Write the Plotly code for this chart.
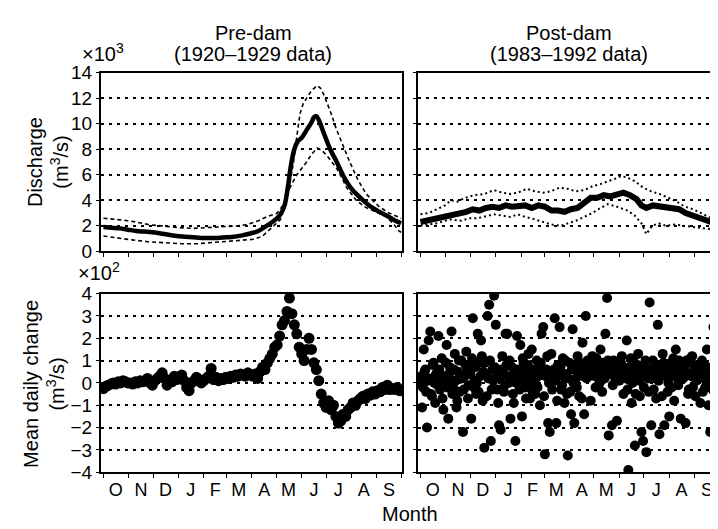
import plotly.graph_objects as go
from plotly.subplots import make_subplots

# month labels (water year, Oct -> Sep), day index from 1 October
month_labels = ["O", "N", "D", "J", "F", "M", "A", "M", "J", "J", "A", "S"]
month_mid = [15, 46, 76, 107, 137, 166, 197, 227, 258, 288, 319, 350]
month_edges = [0, 31, 61, 92, 123, 151, 182, 212, 243, 273, 304, 335, 365]

# pre-dam discharge (x10^3 m3/s)
pre_mean_day = [0, 10, 20, 30, 40, 50, 60, 70, 80, 90, 100, 110, 120, 130, 140, 150, 160, 170, 180, 190,
                200, 207, 213, 218, 222, 226, 230, 234, 238, 243, 249, 255, 258, 261, 264, 270, 278, 286, 295,
                303, 310, 320, 330, 338, 350, 358, 365]
pre_mean = [1.9, 1.85, 1.8, 1.7, 1.6, 1.55, 1.5, 1.4, 1.3, 1.2, 1.15, 1.1, 1.05, 1.05, 1.05, 1.1, 1.15, 1.25,
            1.4, 1.6, 2.0, 2.3, 2.6, 3.0, 3.6, 5.0, 6.8, 8.0, 8.6, 8.9, 9.5, 10.1, 10.5, 10.6, 10.3, 9.3, 8.0,
            7.0, 5.8, 5.0, 4.5, 3.9, 3.4, 3.1, 2.7, 2.4, 2.2]
pre_upper_day = [0, 10, 20, 30, 40, 55, 70, 85, 95, 110, 125, 136, 150, 165, 176, 190, 200, 213, 220, 225,
                 229, 233, 237, 241, 245, 249, 255, 262, 266, 270, 278, 286, 294, 302, 312, 322, 330, 338,
                 350, 362, 365]
pre_upper = [2.6, 2.55, 2.5, 2.4, 2.3, 2.1, 2.0, 1.9, 1.85, 1.8, 1.85, 1.9, 1.95, 2.0, 2.1, 2.4, 2.7, 3.0,
             3.6, 4.2, 5.5, 7.0, 9.0, 10.8, 11.6, 12.0, 12.6, 13.0, 12.8, 12.3, 11.0, 9.5, 8.2, 7.0, 5.6,
             4.5, 4.0, 3.5, 3.0, 2.7, 2.6]
pre_lower_day = [0, 10, 20, 35, 55, 75, 95, 115, 136, 155, 170, 185, 195, 200, 208, 217, 221, 225, 231, 237,
                 243, 249, 255, 262, 268, 274, 280, 286, 292, 298, 304, 310, 320, 331, 340, 347, 355, 362, 365]
pre_lower = [1.2, 1.1, 1.0, 0.9, 0.75, 0.65, 0.6, 0.6, 0.7, 0.75, 0.85, 0.95, 1.2, 1.5, 2.0, 2.5, 3.3, 4.5,
             5.3, 6.0, 6.5, 7.0, 7.6, 8.1, 7.9, 7.5, 7.0, 6.5, 5.8, 5.0, 4.5, 4.0, 3.5, 3.2, 2.9, 2.7, 2.2,
             1.6, 1.5]

# post-dam discharge (x10^3 m3/s)
post_mean_day = [0, 8, 16, 24, 32, 40, 48, 56, 64, 72, 80, 88, 96, 104, 112, 120, 128, 136, 144, 152, 160,
                 168, 176, 184, 192, 200, 208, 216, 224, 232, 240, 248, 256, 264, 270, 276, 284, 292, 300,
                 308, 316, 324, 332, 340, 348, 356, 364]
post_mean = [2.3, 2.4, 2.5, 2.6, 2.8, 2.9, 3.0, 3.1, 3.3, 3.2, 3.4, 3.5, 3.4, 3.6, 3.5, 3.5, 3.6, 3.4, 3.6,
             3.5, 3.2, 3.2, 3.1, 3.3, 3.4, 3.8, 4.2, 4.2, 4.4, 4.3, 4.5, 4.6, 4.4, 4.1, 3.6, 3.4, 3.6, 3.5,
             3.4, 3.3, 3.3, 3.0, 2.8, 2.6, 2.4, 2.2, 2.1]
post_upper_day = [0, 10, 20, 30, 37, 45, 55, 65, 78, 90, 100, 110, 119, 130, 140, 150, 159, 170, 180, 190,
                  200, 210, 221, 230, 238, 245, 252, 262, 272, 282, 292, 303, 313, 323, 333, 343, 352, 364]
post_upper = [2.9, 3.0, 3.3, 3.6, 4.0, 3.9, 4.2, 4.4, 4.5, 4.8, 4.6, 4.5, 4.6, 4.9, 4.7, 4.6, 4.7, 5.0, 4.9,
              4.7, 4.8, 5.1, 5.3, 5.5, 5.7, 5.9, 5.8, 5.5, 5.0, 4.7, 4.5, 4.2, 3.9, 3.5, 3.3, 3.0, 2.7, 2.4]
post_lower_day = [0, 10, 20, 30, 37, 50, 60, 70, 78, 90, 100, 110, 119, 128, 140, 150, 160, 171, 180, 190,
                  200, 210, 220, 229, 240, 253, 262, 270, 276, 283, 291, 300, 310, 323, 335, 347, 360, 364]
post_lower = [2.0, 2.1, 2.2, 2.4, 2.5, 2.4, 2.6, 2.6, 2.7, 2.9, 2.8, 2.7, 2.9, 2.7, 2.5, 2.3, 2.1, 2.0, 2.2,
              2.4, 2.7, 3.0, 3.4, 3.7, 3.5, 3.2, 2.8, 2.2, 1.35, 2.0, 2.2, 2.0, 2.1, 2.0, 1.9, 1.8, 1.7, 1.8]

# pre-dam mean daily change (x10^2 m3/s), every 3 days from 1 Oct
pre_change = [-0.25, -0.15, -0.1, -0.05, 0.0, -0.05, 0.05, 0.0, 0.1, 0.05, 0.0,
              0.0, -0.05, 0.05, 0.0, 0.1, 0.05, 0.1, 0.2, 0.0, -0.1,
              0.1, 0.2, 0.3, 0.45, 0.2, -0.1, 0.1, 0.05, 0.3, 0.15,
              0.2, 0.35, 0.1, -0.2, -0.35, 0.0, 0.1, 0.25, 0.15, 0.0,
              0.1, 0.2, 0.3, 0.65, 0.15, 0.25, 0.1, 0.2, 0.15, 0.25,
              0.2, 0.3, 0.25, 0.35, 0.3, 0.4, 0.35, 0.3, 0.45, 0.35,
              0.3, 0.4, 0.2, 0.5, 0.7, 0.6, 0.9, 1.1, 1.3, 1.6,
              1.7, 2.1, 2.6, 2.8, 3.2, 3.8, 3.1, 2.6, 2.2, 1.6,
              1.3, 1.0, 1.5, 2.0, 1.5, 0.9, 0.6, 0.1, -0.5, -0.9,
              -1.1, -0.8, -1.2, -1.0, -1.5, -1.8, -1.7, -1.4, -1.5, -1.2,
              -1.1, -0.9, -1.0, -0.8, -0.7, -0.6, -0.7, -0.5, -0.55, -0.4,
              -0.5, -0.35, -0.4, -0.2, -0.3, -0.1, -0.3, -0.25, -0.3, -0.2, -0.35]
pre_change_day = [3 * i for i in range(len(pre_change))]

# post-dam mean daily change (x10^2 m3/s), daily from 1 Oct
post_change = [0.0, 0.3, -1.1, -0.2, 1.5, 0.5, 0.6, -0.4, -2.0, 0.1,
               1.9, 0.2, 2.3, -0.5, -0.6, 0.8, 0.9, 0.0, -0.9, 0.4,
               0.4, -0.1, 2.1, 0.6, -0.3, 0.1, 1.1, -0.7, -1.2, 0.3,
               0.2, 0.9, 1.7, -0.2, -1.6, 0.4, 0.7, 0.0, 2.3, -0.5,
               -0.2, 0.6, 1.3, 0.1, -1.1, -0.8, 0.5, 1.0, -0.4, 0.3,
               1.0, 0.2, -2.2, -0.3, 0.3, 0.8, 1.4, 0.5, -0.7, -0.1,
               0.8, 0.4, -1.6, 1.1, 2.9, -0.2, 0.1, 0.7, -0.5, 0.0,
               2.2, -0.4, 0.9, 0.3, 1.9, 1.2, -0.8, 0.5, -2.9, 0.9,
               0.4, -0.6, 3.0, 0.2, 3.5, 1.0, -2.6, -0.3, 0.6, 0.1,
               3.9, 0.7, 2.6, 0.4, -0.3, -0.9, -1.9, 0.2, -2.1, 0.6,
               1.2, 0.5, -0.4, -0.1, 2.2, 0.8, 2.2, 0.3, 0.0, 1.0,
               -1.6, 0.2, 0.7, -0.5, -0.9, 0.4, -2.6, 0.0, 2.1, 0.6,
               0.3, -0.3, 1.7, 0.5, -1.5, 1.1, 0.9, 0.1, -0.2, -0.7,
               0.5, 0.8, 1.3, 0.0, -0.7, 0.4, 1.5, -0.4, 0.1, 0.6,
               -0.5, 0.2, 1.0, -0.2, 0.3, 0.7, -1.0, 0.9, 2.2, 0.4,
               2.5, -0.6, -3.2, 0.3, 0.6, 1.2, -1.8, 0.0, -2.2, 0.5,
               1.3, -0.3, 0.2, 0.6, 2.9, 0.1, -1.8, -0.8, 0.8, 0.4,
               2.5, 0.7, -0.3, -0.1, 1.1, 0.3, -0.9, 1.0, 0.4, -0.5,
               -3.25, 0.2, 0.9, -0.4, -1.4, 0.6, 2.4, 0.0, -1.8, 0.8,
               0.2, -0.2, 1.2, 0.4, -0.6, 0.9, 0.5, -0.7, 1.8, 0.3,
               -1.4, 0.6, 3.0, 0.2, 1.0, 0.5, 0.3, 0.9, -0.8, 0.4,
               1.2, 0.7, 0.6, 0.3, -0.2, 1.1, 0.9, 0.5, 0.4, 0.0,
               1.5, 0.6, -0.4, 0.9, 0.7, 0.2, 2.2, 0.5, 3.8, 1.0,
               -2.35, 0.4, 0.5, 0.7, -1.9, -0.1, 1.0, 0.6, 0.2, 0.3,
               -1.7, 0.5, 0.8, 0.1, 0.3, 0.9, 1.2, 0.4, -0.5, 0.6,
               0.6, 0.2, 1.9, -0.3, -3.9, 0.7, 0.4, 1.1, -0.9, 0.0,
               1.0, 0.3, -2.8, -0.5, 0.5, 0.8, 1.3, 0.1, -0.6, 0.6,
               -2.2, 0.4, -2.6, -0.2, 0.8, 1.0, -3.1, 0.5, 0.2, -0.4,
               3.6, 0.6, -1.9, 0.2, 1.0, -0.3, 0.4, 0.8, -0.7, 0.3,
               2.6, 0.1, -2.3, 0.5, 0.6, -0.6, 1.3, 0.9, -1.9, 0.4,
               0.3, 0.7, -0.4, 0.0, -1.5, 0.4, 0.9, -0.2, 0.5, 1.1,
               -0.8, 0.3, 1.5, 0.6, 0.2, -0.1, 1.0, 0.8, -1.6, 0.5,
               0.7, 0.2, 0.4, 0.6, -1.8, 1.0, 0.9, -0.5, -0.3, 0.4,
               1.1, 0.3, 1.2, -0.2, 0.5, 0.7, -0.6, 0.1, 0.8, 0.5,
               0.2, 0.6, -0.9, 0.3, 1.0, -0.4, 0.4, 0.8, -0.2, 0.1,
               1.5, 0.4, -1.0, 0.0, -2.2, 0.7, 0.6, -0.3, 2.5, 0.5,
               -1.75, 0.3, 0.9, -0.5, 0.1]
post_change_day = list(range(len(post_change)))

FONT = "Liberation Sans, Arial, sans-serif"

fig = make_subplots(rows=2, cols=2)

# discharge panels
fig.add_trace(go.Scatter(x=pre_upper_day, y=pre_upper, mode="lines",
                         line=dict(color="black", width=1.6, dash="4px,3px")), row=1, col=1)
fig.add_trace(go.Scatter(x=pre_lower_day, y=pre_lower, mode="lines",
                         line=dict(color="black", width=1.6, dash="4px,3px")), row=1, col=1)
fig.add_trace(go.Scatter(x=pre_mean_day, y=pre_mean, mode="lines", line_shape="spline",
                         line=dict(color="black", width=4.5)), row=1, col=1)

fig.add_trace(go.Scatter(x=post_upper_day, y=post_upper, mode="lines",
                         line=dict(color="black", width=2, dash="2px,3px")), row=1, col=2)
fig.add_trace(go.Scatter(x=post_lower_day, y=post_lower, mode="lines",
                         line=dict(color="black", width=2, dash="2px,3px")), row=1, col=2)
fig.add_trace(go.Scatter(x=post_mean_day, y=post_mean, mode="lines",
                         line=dict(color="black", width=6)), row=1, col=2)

# daily change panels
fig.add_trace(go.Scatter(x=pre_change_day, y=pre_change, mode="markers",
                         marker=dict(color="black", size=11)), row=2, col=1)
fig.add_trace(go.Scatter(x=post_change_day, y=post_change, mode="markers",
                         marker=dict(color="black", size=10)), row=2, col=2)

xdom = [[93 / 718, 394 / 718], [410 / 718, 712 / 718]]
ydom = [[1 - 243 / 529, 1 - 57 / 529], [1 - 473 / 529, 1 - 287 / 529]]

for r in (1, 2):
    for c in (1, 2):
        fig.update_xaxes(domain=xdom[c - 1], range=[-3, 366], showgrid=False, zeroline=False,
                         showline=True, mirror=True, linecolor="black", linewidth=2,
                         tickvals=month_mid, ticktext=month_labels, ticks="",
                         showticklabels=(r == 2),
                         tickfont=dict(family=FONT, size=18, color="black"),
                         minor=dict(tickvals=month_edges, ticks="outside", ticklen=4,
                                    tickcolor="black", tickwidth=1, showgrid=False),
                         row=r, col=c)
        fig.update_yaxes(domain=ydom[r - 1], showgrid=True, griddash="3px,5px", gridcolor="black",
                         gridwidth=1.5, zeroline=False, showline=True, mirror=True,
                         linecolor="black", linewidth=2, ticks="outside", ticklen=3,
                         tickcolor="black", showticklabels=(c == 1),
                         tickfont=dict(family=FONT, size=19, color="black"),
                         row=r, col=c)
fig.update_yaxes(range=[0, 14], dtick=2, tick0=0, row=1, col=1)
fig.update_yaxes(range=[0, 14], dtick=2, tick0=0, row=1, col=2)
fig.update_yaxes(range=[-4, 4], dtick=1, tick0=0, row=2, col=1)
fig.update_yaxes(range=[-4, 4], dtick=1, tick0=0, row=2, col=2)

txt = dict(family=FONT, size=20, color="black")
notes = [
    dict(x=245, y=16, text="Pre-dam", anchor="center"),
    dict(x=245, y=38, text="(1920\u20131929 data)", anchor="center"),
    dict(x=561, y=16, text="Post-dam", anchor="center"),
    dict(x=561, y=38, text="(1983\u20131992 data)", anchor="center"),
    dict(x=72, y=36, text="\u00d710<sup>3</sup>", anchor="left"),
    dict(x=68, y=264, text="\u00d710<sup>2</sup>", anchor="left"),
    dict(x=402, y=517, text="Month", anchor="center"),
]
for n in notes:
    fig.add_annotation(x=n["x"] / 718, y=1 - n["y"] / 529, xref="paper", yref="paper",
                       text=n["text"], showarrow=False, font=txt, xanchor=n["anchor"],
                       yanchor="middle")
fig.add_annotation(x=40 / 718, y=1 - 150 / 529, xref="paper", yref="paper", textangle=-90,
                   text="Discharge<br>(m<sup>3</sup>/s)", showarrow=False, font=txt,
                   xanchor="center", yanchor="middle")
fig.add_annotation(x=36 / 718, y=1 - 381 / 529, xref="paper", yref="paper", textangle=-90,
                   text="Mean daily change<br>(m<sup>3</sup>/s)", showarrow=False, font=txt,
                   xanchor="center", yanchor="middle")

fig.update_layout(width=718, height=529, showlegend=False,
                  paper_bgcolor="white", plot_bgcolor="white",
                  margin=dict(l=0, r=0, t=0, b=0), font=txt)

fig.write_html("out.html")
